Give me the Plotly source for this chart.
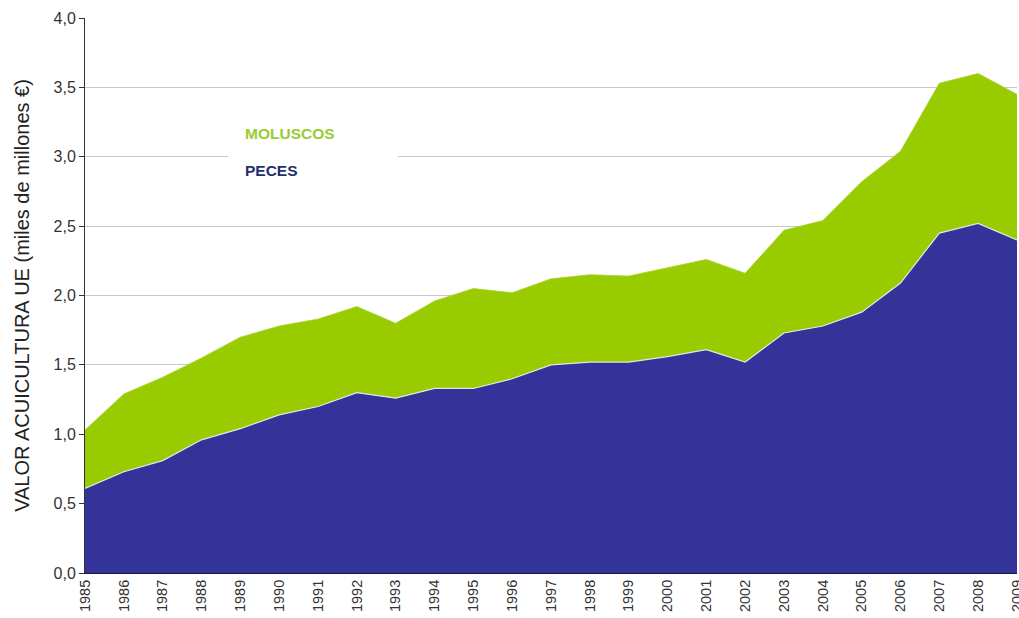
import plotly.graph_objects as go

years = list(range(1985, 2010))
peces = [0.61, 0.73, 0.81, 0.96, 1.04, 1.14, 1.20, 1.30, 1.26, 1.33, 1.33, 1.40, 1.50,
         1.52, 1.52, 1.56, 1.61, 1.52, 1.73, 1.78, 1.88, 2.09, 2.45, 2.52, 2.40]
moluscos = [0.42, 0.56, 0.60, 0.59, 0.66, 0.64, 0.63, 0.62, 0.54, 0.63, 0.72, 0.62, 0.62,
            0.63, 0.62, 0.64, 0.65, 0.64, 0.74, 0.76, 0.94, 0.95, 1.08, 1.08, 1.05]
y_ticks = [0, 0.5, 1.0, 1.5, 2.0, 2.5, 3.0, 3.5, 4.0]

fig = go.Figure()
fig.add_trace(go.Scatter(x=years, y=peces, name="PECES", stackgroup="one", mode="lines",
                         line=dict(color="#e4e4e4", width=1.2), fillcolor="#333399"))
fig.add_trace(go.Scatter(x=years, y=moluscos, name="MOLUSCOS", stackgroup="one", mode="lines",
                         line=dict(color="#a8d030", width=0.8), fillcolor="#99cc00"))

font = "Liberation Sans, Arial, sans-serif"
fig.update_layout(
    width=1019, height=618,
    margin=dict(l=85, r=2, t=18, b=45),
    paper_bgcolor="white", plot_bgcolor="white",
    separators=",.",
    showlegend=False,
    font=dict(family=font, color="#333333"),
    xaxis=dict(range=[1985, 2009.0001], tickmode="array", tickvals=years,
               ticktext=[str(y) for y in years], tickangle=-90,
               tickfont=dict(size=14.5, color="#333333"),
               ticklabeloverflow="allow",
               showgrid=False, showline=True, linecolor="#1a1a4a", linewidth=1,
               ticks="", zeroline=False, automargin=False),
    yaxis=dict(range=[0, 4], tickvals=y_ticks, tickformat=".1f",
               tickfont=dict(size=16, color="#333333"),
               showgrid=True, gridcolor="#c8c8c8", gridwidth=1,
               showline=True, linecolor="#333333", linewidth=1,
               ticks="outside", ticklen=5, tickcolor="#333333",
               zeroline=False, automargin=False,
               title=dict(text="VALOR ACUICULTURA UE (miles de millones €)",
                          font=dict(size=20, color="#222222"), standoff=18)),
)

fig.add_shape(type="rect", xref="paper", yref="paper",
              x0=(228 - 85) / 932, x1=(398 - 85) / 932,
              y0=(573 - 185) / 555, y1=(573 - 115) / 555,
              fillcolor="white", line=dict(width=0), layer="above")
fig.add_annotation(text="<b>MOLUSCOS</b>", xref="paper", yref="paper",
                   x=(243 - 85) / 932, y=(573 - 133) / 555, xanchor="left", yanchor="middle",
                   showarrow=False, font=dict(size=15.5, color="#99cc33", family=font))
fig.add_annotation(text="<b>PECES</b>", xref="paper", yref="paper",
                   x=(243 - 85) / 932, y=(573 - 170) / 555, xanchor="left", yanchor="middle",
                   showarrow=False, font=dict(size=15.5, color="#1f2f6f", family=font))

fig.write_html("out.html", config={"displayModeBar": False},
               post_script="document.body.style.margin='0px';document.body.style.overflow='hidden';")
